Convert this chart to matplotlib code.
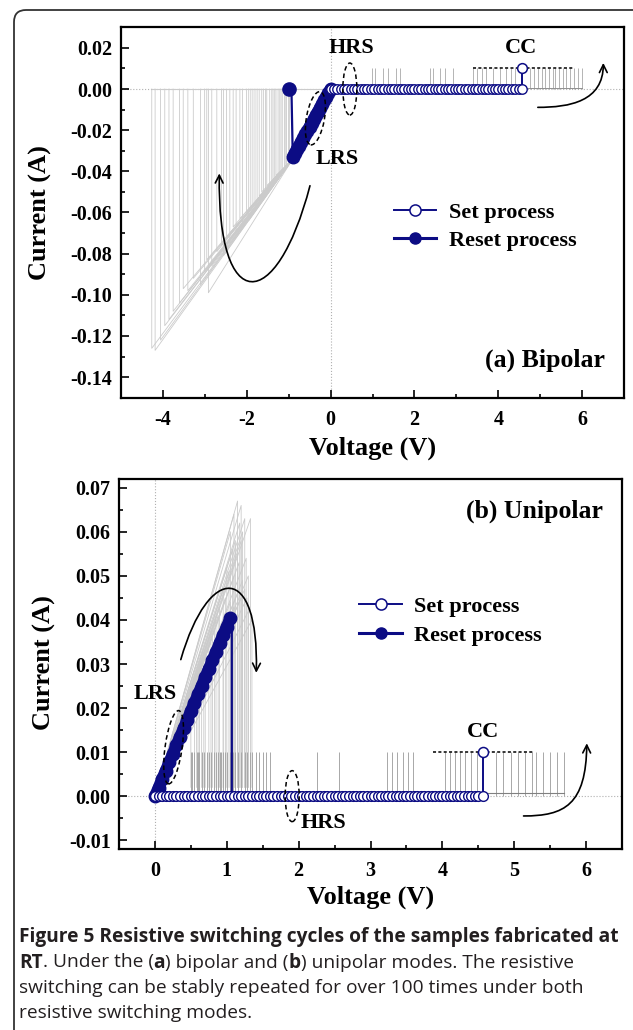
import numpy as np
import matplotlib
matplotlib.use('Agg')
import matplotlib.pyplot as plt
import matplotlib.transforms as mtransforms
from matplotlib.patches import Ellipse, FancyArrowPatch, FancyBboxPatch
from matplotlib.path import Path
from matplotlib.lines import Line2D

plt.rcParams['font.family'] = 'Liberation Serif'
plt.rcParams['font.weight'] = 'bold'
plt.rcParams['axes.labelweight'] = 'bold'
plt.rcParams['axes.unicode_minus'] = False

NAVY = '#0c0c84'
LIGHT = '#cbcbcb'
MID = '#a8a8a8'

# ---------------- (a) bipolar ----------------
set_a_v = [0.00, 0.08, 0.16, 0.24, 0.32, 0.40, 0.48, 0.56, 0.64, 0.72, 0.80, 0.88,
           0.96, 1.04, 1.12, 1.20, 1.28, 1.36, 1.44, 1.52, 1.60, 1.68, 1.76, 1.84,
           1.92, 2.00, 2.08, 2.16, 2.24, 2.32, 2.40, 2.48, 2.56, 2.64, 2.72, 2.80,
           2.88, 2.96, 3.04, 3.12, 3.20, 3.28, 3.36, 3.44, 3.52, 3.60, 3.68, 3.76,
           3.84, 3.92, 4.00, 4.08, 4.16, 4.24, 4.32, 4.40, 4.48, 4.56]
set_a_i = [0.0] * len(set_a_v)
cc_a_v = [4.56, 4.56]
cc_a_i = [0.0, 0.010]

reset_a_v = [0.00, -0.05, -0.10, -0.15, -0.20, -0.25, -0.30, -0.35, -0.40, -0.45,
             -0.50, -0.55, -0.60, -0.65, -0.70, -0.75, -0.80, -0.85, -0.90]
reset_a_i = [0.0, -0.0018, -0.0037, -0.0055, -0.0073, -0.0092, -0.0110, -0.0128,
             -0.0147, -0.0165, -0.0183, -0.0202, -0.0220, -0.0238, -0.0257,
             -0.0275, -0.0293, -0.0312, -0.0330]
drop_a_v = [-0.90, -0.93, -0.985]
drop_a_i = [-0.0330, -0.0015, 0.0]

# grey cycles: reset point of each sweep
bip_reset_v = [-4.26, -4.18, -4.05, -3.95, -3.85, -3.75, -3.60, -3.51, -3.40, -3.27,
               -3.10, -3.00, -2.95, -2.91, -2.83, -2.71, -2.60, -2.55, -2.48, -2.40,
               -2.32, -2.25, -2.16, -2.10, -2.00, -1.95, -1.90, -1.85, -1.80, -1.75,
               -1.70, -1.64, -1.60, -1.55, -1.52, -1.45, -1.40, -1.37, -1.33, -1.30,
               -1.25, -1.21, -1.18, -1.15, -1.10, -1.08, -1.05, -1.00, -0.98]
bip_reset_i = [-0.126, -0.127, -0.122, -0.115, -0.112, -0.108, -0.104, -0.097, -0.098,
               -0.092, -0.095, -0.089, -0.083, -0.099, -0.086, -0.079, -0.076, -0.081,
               -0.072, -0.075, -0.067, -0.070, -0.063, -0.066, -0.060, -0.064, -0.058,
               -0.057, -0.055, -0.054, -0.052, -0.050, -0.051, -0.049, -0.047, -0.046,
               -0.045, -0.044, -0.043, -0.042, -0.042, -0.041, -0.041, -0.040, -0.039,
               -0.039, -0.038, -0.037, -0.036]
bip_set_v = [0.98, 1.05, 1.25, 1.37, 1.57, 1.65, 2.36, 2.44, 2.60, 2.72, 2.92, 3.40,
             3.48, 3.60, 3.71, 3.87, 4.03, 4.19, 4.31, 4.39, 4.75, 4.85, 4.95, 5.05,
             5.12, 5.20, 5.30, 5.36, 5.45, 5.55, 5.62, 5.70, 5.80, 5.90, 6.00]

# ---------------- (b) unipolar ----------------
set_b_v = [0.00, 0.05, 0.10, 0.15, 0.20, 0.25, 0.30, 0.35, 0.40, 0.45, 0.50, 0.55,
           0.60, 0.65, 0.70, 0.75, 0.80, 0.85, 0.90, 0.95, 1.00, 1.05, 1.10, 1.15,
           1.20, 1.25, 1.30, 1.35, 1.40, 1.45, 1.50, 1.55, 1.60, 1.65, 1.70, 1.75,
           1.80, 1.85, 1.90, 1.95, 2.00, 2.05, 2.10, 2.15, 2.20, 2.25, 2.30, 2.35,
           2.40, 2.45, 2.50, 2.55, 2.60, 2.65, 2.70, 2.75, 2.80, 2.85, 2.90, 2.95,
           3.00, 3.05, 3.10, 3.15, 3.20, 3.25, 3.30, 3.35, 3.40, 3.45, 3.50, 3.55,
           3.60, 3.65, 3.70, 3.75, 3.80, 3.85, 3.90, 3.95, 4.00, 4.05, 4.10, 4.15,
           4.20, 4.25, 4.30, 4.35, 4.40, 4.45, 4.50, 4.57]
set_b_i = [0.0] * len(set_b_v)
cc_b_v = [4.57, 4.57]
cc_b_i = [0.0, 0.010]

reset_b_v = [0.00, 0.05, 0.10, 0.15, 0.20, 0.25, 0.30, 0.35, 0.40, 0.45, 0.50,
             0.55, 0.60, 0.65, 0.70, 0.75, 0.80, 0.85, 0.90, 0.95, 1.00, 1.05]
reset_b_i = [0.0, 0.0019, 0.0039, 0.0058, 0.0077, 0.0096, 0.0116, 0.0135, 0.0154,
             0.0173, 0.0193, 0.0212, 0.0231, 0.0250, 0.0270, 0.0289, 0.0308,
             0.0327, 0.0347, 0.0366, 0.0385, 0.0404]
drop_b_v = [1.05, 1.07, 1.07]
drop_b_i = [0.0404, 0.0385, 0.0010]

uni_peak_v = [1.15, 1.20, 1.10, 1.25, 1.33, 1.18, 1.22, 1.05, 1.12, 1.20, 1.08, 1.15,
              1.27, 1.17, 1.30, 1.00, 1.03, 1.10, 1.22, 1.25, 0.95, 1.15, 1.20, 0.98,
              1.28, 0.90, 1.05, 0.88, 1.30, 0.85, 0.83, 0.80, 0.78, 0.75, 0.70, 0.68,
              0.65, 0.62, 0.60, 0.58, 0.55, 0.50, 1.35, 0.95, 1.10]
uni_peak_i = [0.067, 0.066, 0.064, 0.063, 0.063, 0.062, 0.060, 0.060, 0.058, 0.058,
              0.056, 0.055, 0.054, 0.053, 0.050, 0.052, 0.051, 0.050, 0.049, 0.047,
              0.047, 0.046, 0.045, 0.045, 0.045, 0.043, 0.044, 0.041, 0.042, 0.040,
              0.038, 0.036, 0.035, 0.034, 0.032, 0.031, 0.029, 0.028, 0.027, 0.026,
              0.025, 0.022, 0.040, 0.040, 0.043]
uni_set_v = [0.50, 0.52, 0.55, 0.58, 0.60, 0.62, 0.65, 0.68, 0.72, 0.75, 0.78, 0.82,
             0.85, 0.88, 0.90, 0.92, 0.95, 0.98, 1.00, 1.05, 1.08, 1.12, 1.15, 1.20,
             1.25, 1.28, 1.32, 1.35, 1.40, 1.45, 1.50, 1.55, 1.60, 2.25, 2.56, 3.23,
             3.30, 3.37, 3.45, 3.52, 3.59, 4.04, 4.10, 4.18, 4.25, 4.32, 4.40, 4.48,
             4.74, 4.85, 4.95, 5.05, 5.15, 5.25, 5.30, 5.40, 5.50, 5.60, 5.69]


fig = plt.figure(figsize=(6.33, 10.30), dpi=100)
fig.patch.set_facecolor('white')
W, H = 633.0, 1030.0

border = FancyBboxPatch((0.14, -0.5), 7.0, 10.7, boxstyle='round,pad=0,rounding_size=0.12',
                        transform=fig.dpi_scale_trans, fill=False, ec='#333333', lw=1.3)
fig.patches.append(border)

ax1 = fig.add_axes([120.7 / W, 1 - 397.7 / H, (624.3 - 120.7) / W, (397.7 - 27.3) / H])
ax2 = fig.add_axes([119.0 / W, 1 - 849.0 / H, (622.0 - 119.0) / W, (849.0 - 479.0) / H])


def ring(ax, xc, yc, w, h, ang=0):
    tr = fig.dpi_scale_trans + mtransforms.ScaledTranslation(xc, yc, ax.transData)
    ax.add_patch(Ellipse((0, 0), w / 100.0, h / 100.0, angle=ang, transform=tr,
                         fill=False, ec='k', lw=1.1, ls=(0, (3, 2)), zorder=6))


def bent_arrow(ax, pts):
    p = Path(pts, [Path.MOVETO, Path.CURVE4, Path.CURVE4, Path.CURVE4])
    ax.add_patch(FancyArrowPatch(path=p, arrowstyle='->', mutation_scale=14,
                                 color='k', lw=1.2, zorder=6))


def style(ax):
    for s in ax.spines.values():
        s.set_linewidth(1.6)
    ax.tick_params(which='both', direction='in', width=1.2, labelsize=14.5)
    ax.tick_params(which='major', length=5.5)
    ax.tick_params(which='minor', length=3)
    ax.tick_params(axis='x', pad=9)
    ax.tick_params(axis='y', pad=6)
    ax.tick_params(top=False, right=False, which='both')


# ---- panel (a)
for v, i in zip(bip_reset_v, bip_reset_i):
    ax1.plot([0, -0.9, v, v], [0, -0.034, i, 0], color=LIGHT, lw=0.6, zorder=1)
ax1.plot([min(bip_reset_v), 0], [0, 0], color=LIGHT, lw=0.8, zorder=1)
ax1.vlines(bip_set_v, 0, 0.010, color='#b4b4b4', lw=0.7, zorder=1)
ax1.plot([4.56, 6.0], [0.0006, 0.0006], color='#909090', lw=0.7, zorder=1)
ax1.axhline(0, color='#b0b0b0', lw=0.8, ls=':', zorder=0)
ax1.axvline(0, color='#b0b0b0', lw=0.8, ls=':', zorder=0)
ax1.plot([3.4, 5.8], [0.010, 0.010], color='k', lw=1.1, ls=(0, (2, 1.5)), zorder=2)

ax1.plot(reset_a_v, reset_a_i, color=NAVY, lw=8.5, solid_capstyle='round', marker='o',
         ms=9, mfc=NAVY, mec=NAVY, zorder=4)
ax1.plot(drop_a_v[:2], drop_a_i[:2], color=NAVY, lw=1.6, zorder=4)
ax1.plot(drop_a_v[1:], drop_a_i[1:], color=NAVY, lw=1.6, zorder=4)
ax1.plot(drop_a_v[-1:], drop_a_i[-1:], ls='none', marker='o', ms=9.5, color=NAVY, zorder=5)
ax1.plot(cc_a_v, cc_a_i, color=NAVY, lw=1.4, zorder=4)
ax1.plot(set_a_v, set_a_i, color=NAVY, lw=1.4, marker='o', ms=6.8, mfc='white',
         mec=NAVY, mew=1.0, zorder=5)
ax1.plot(cc_a_v[-1:], cc_a_i[-1:], ls='none', marker='o', ms=7, mfc='white', mec=NAVY,
         mew=1.1, zorder=5)

ax1.text(0.51, 0.0199, 'HRS', ha='center', va='center', fontsize=16)
ax1.text(0.15, -0.0339, 'LRS', ha='center', va='center', fontsize=16)
ax1.text(4.55, 0.0199, 'CC', ha='center', va='center', fontsize=16)
ax1.text(6.53, -0.132, '(a) Bipolar', ha='right', va='center', fontsize=18.5)
ring(ax1, -0.36, -0.0142, 18, 54, -10)
ring(ax1, 0.46, 0.0, 14, 52)
bent_arrow(ax1, [(-0.49, -0.047), (-1.3, -0.11), (-2.7, -0.11), (-2.65, -0.041)])
bent_arrow(ax1, [(4.94, -0.0089), (5.7, -0.0089), (6.5, -0.006), (6.5, 0.0127)])

ax1.set_xlim(-5, 7)
ax1.set_ylim(-0.15, 0.03)
ax1.set_xticks([-4, -2, 0, 2, 4, 6])
ax1.set_xticks([-5, -3, -1, 1, 3, 5], minor=True)
ax1.set_yticks([-0.14, -0.12, -0.10, -0.08, -0.06, -0.04, -0.02, 0.00, 0.02])
ax1.set_yticks([-0.13, -0.11, -0.09, -0.07, -0.05, -0.03, -0.01, 0.01], minor=True)
ax1.yaxis.set_major_formatter(matplotlib.ticker.FormatStrFormatter('%.2f'))
style(ax1)
ax1.set_xlabel('Voltage (V)', fontsize=19, fontweight='bold', va='center')
ax1.set_ylabel('Current (A)', fontsize=19, fontweight='bold', va='center', ha='center')
ax1.xaxis.set_label_coords(0.5, -0.136)
ax1.yaxis.set_label_coords(-0.160, 0.5)

h_set = Line2D([], [], color=NAVY, lw=1.4, marker='o', ms=8, mfc='white', mec=NAVY, mew=1.1)
h_reset = Line2D([], [], color=NAVY, lw=2.2, marker='o', ms=8, mfc=NAVY, mec=NAVY)
ax1.legend([h_set, h_reset], ['Set process', 'Reset process'], loc='upper left',
           bbox_to_anchor=(0.543, 0.528), frameon=False, fontsize=16, numpoints=1,
           handlelength=1.9, handletextpad=0.55, labelspacing=0.35,
           borderpad=0, borderaxespad=0)

# ---- panel (b)
for v, i in zip(uni_peak_v, uni_peak_i):
    ax2.plot([0, v, v], [0, i, 0.002], color=LIGHT, lw=0.6, zorder=1)
ax2.vlines(uni_set_v, 0, 0.010, color=MID, lw=0.7, zorder=1)
ax2.plot([4.57, 5.69], [0.0007, 0.0007], color='#808080', lw=0.8, zorder=1)
ax2.axhline(0, color='#b0b0b0', lw=0.8, ls=':', zorder=0)
ax2.axvline(0, color='#b0b0b0', lw=0.8, ls=':', zorder=0)
ax2.plot([3.87, 5.27], [0.010, 0.010], color='k', lw=1.1, ls=(0, (2, 1.5)), zorder=2)

ax2.plot(reset_b_v, reset_b_i, color=NAVY, lw=8.5, solid_capstyle='round', marker='o',
         ms=9, mfc=NAVY, mec=NAVY, zorder=4)
ax2.plot(drop_b_v, drop_b_i, color=NAVY, lw=1.6, zorder=4)
ax2.plot(cc_b_v, cc_b_i, color=NAVY, lw=1.4, zorder=4)
ax2.plot(set_b_v, set_b_i, color=NAVY, lw=1.4, marker='o', ms=7, mfc='white',
         mec=NAVY, mew=1.0, zorder=5)
ax2.plot(cc_b_v[-1:], cc_b_i[-1:], ls='none', marker='o', ms=7.2, mfc='white', mec=NAVY,
         mew=1.1, zorder=5)

ax2.text(0.0, 0.0233, 'LRS', ha='center', va='center', fontsize=16)
ax2.text(2.35, -0.0061, 'HRS', ha='center', va='center', fontsize=16)
ax2.text(4.57, 0.0146, 'CC', ha='center', va='center', fontsize=16)
ax2.text(6.23, 0.0646, '(b) Unipolar', ha='right', va='center', fontsize=18.5)
ring(ax2, 0.26, 0.0111, 17, 74, -8)
ring(ax2, 1.91, 0.0, 14, 51)
bent_arrow(ax2, [(0.36, 0.031), (0.75, 0.053), (1.45, 0.053), (1.41, 0.028)])
bent_arrow(ax2, [(5.13, -0.0045), (5.7, -0.0045), (6.0, -0.002), (6.01, 0.012)])

ax2.set_xlim(-0.5, 6.5)
ax2.set_ylim(-0.012, 0.072)
ax2.set_xticks([0, 1, 2, 3, 4, 5, 6])
ax2.set_xticks([0.5, 1.5, 2.5, 3.5, 4.5, 5.5], minor=True)
ax2.set_yticks([-0.01, 0.00, 0.01, 0.02, 0.03, 0.04, 0.05, 0.06, 0.07])
ax2.set_yticks([-0.005, 0.005, 0.015, 0.025, 0.035, 0.045, 0.055, 0.065], minor=True)
ax2.yaxis.set_major_formatter(matplotlib.ticker.FormatStrFormatter('%.2f'))
style(ax2)
ax2.set_xlabel('Voltage (V)', fontsize=19, fontweight='bold', va='center')
ax2.set_ylabel('Current (A)', fontsize=19, fontweight='bold', va='center', ha='center')
ax2.xaxis.set_label_coords(0.501, -0.13)
ax2.yaxis.set_label_coords(-0.149, 0.503)

ax2.legend([h_set, h_reset], ['Set process', 'Reset process'], loc='upper left',
           bbox_to_anchor=(0.478, 0.682), frameon=False, fontsize=16, numpoints=1,
           handlelength=1.9, handletextpad=0.55, labelspacing=0.35,
           borderpad=0, borderaxespad=0)

# ---- caption
renderer = fig.canvas.get_renderer()
cap_lines = [
    (937, [('Figure 5 Resistive switching cycles of the samples fabricated at', True)]),
    (962.5, [('RT', True), ('. Under the (', False), ('a', True), (') bipolar and (', False),
             ('b', True), (') unipolar modes. The resistive', False)]),
    (988, [('switching can be stably repeated for over 100 times under both', False)]),
    (1013, [('resistive switching modes.', False)]),
]
for y, parts in cap_lines:
    x = 19.0
    for s, b in parts:
        t = fig.text(x / W, 1 - y / H, s, ha='left', va='center', fontsize=13.8,
                     family='Open Sans', weight='bold' if b else 'normal', color='#231f20')
        x += t.get_window_extent(renderer=renderer).width

fig.savefig('out.png', dpi=100, facecolor='white')
